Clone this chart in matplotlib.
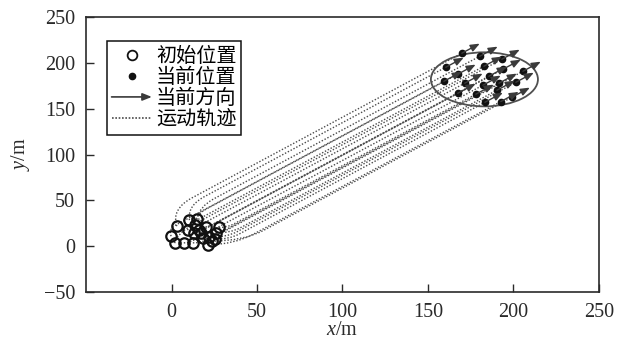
import numpy as np
import matplotlib
matplotlib.use('Agg')
import matplotlib.pyplot as plt
from matplotlib.patches import Ellipse, FancyArrowPatch, PathPatch
from matplotlib.path import Path
from matplotlib.legend_handler import HandlerBase
from matplotlib.lines import Line2D

# ---- data ----
start_x = [3.1, 10.5, 14.8, -0.2, 13.5, 9.5, 1.8, 16.0, 12.9, 19.9,
           17.0, 7.2, 27.7, 12.5, 18.3, 25.8, 21.8, 25.2, 23.4, 21.3]
start_y = [21.8, 28.4, 29.1, 10.9, 22.9, 17.4, 3.3, 17.4, 14.2, 21.0,
           14.0, 3.6, 20.4, 3.6, 8.4, 14.5, 9.5, 7.6, 5.5, 1.1]
end_x = [169.8, 160.4, 180.3, 159.3, 167.4, 182.7, 193.2, 171.5, 185.6, 167.4,
         193.8, 182.1, 178.0, 191.5, 205.5, 190.3, 201.4, 183.3, 199.1, 192.6]
end_y = [210.5, 195.2, 207.2, 179.9, 187.6, 196.3, 203.9, 177.8, 185.4, 166.8,
         193.0, 175.6, 165.8, 177.8, 190.8, 170.1, 178.8, 157.0, 162.5, 157.8]
init_heading_deg = [100, 95, 85, 105, 90, 90, 80, 80, 0, 10,
                    70, 0, 0, 0, 0, 0, 0, 0, 0, 5]
final_heading_deg = 45
arrow_len = 14.8
ellipse_center = (183, 182)
ellipse_w, ellipse_h = 62.6, 59

xlim = (-50, 250)
ylim = (-50, 250)
xticks = [0, 50, 100, 150, 200, 250]
yticks = [-50, 0, 50, 100, 150, 200, 250]
legend_labels = ['初始位置', '当前位置', '当前方向', '运动轨迹']

plt.rcParams['font.family'] = ['Liberation Serif', 'Noto Sans CJK SC']
plt.rcParams['mathtext.fontset'] = 'custom'
plt.rcParams['mathtext.it'] = 'Liberation Serif:italic'
plt.rcParams['mathtext.rm'] = 'Liberation Serif'

dark = '#2a2a2a'
gray = '#4a4a4a'
arrow_style = '-|>,head_length=0.55,head_width=0.22'

fig = plt.figure(figsize=(6.17, 3.45), dpi=100)
ax = fig.add_axes([0.1394, 0.1536, 0.8314, 0.7971])

# trajectories: turn from the initial heading onto the final heading, then straight
fh = np.deg2rad(final_heading_deg)
fdir = np.array([np.cos(fh), np.sin(fh)])
nrm = np.array([-fdir[1], fdir[0]])
for sx, sy, ex, ey, hd in zip(start_x, start_y, end_x, end_y, init_heading_deg):
    s = np.array([sx, sy])
    f = np.array([ex, ey])
    th = np.deg2rad(hd)
    d = np.array([np.cos(th), np.sin(th)])
    u = np.dot(f - s, nrm) / np.dot(d, nrm)
    c = s + u * d
    j = c + fdir * max(0.9 * abs(u), 5)
    path = Path([s, c, j, f], [Path.MOVETO, Path.CURVE3, Path.CURVE3, Path.LINETO])
    ax.add_patch(PathPatch(path, fill=False, edgecolor=gray, lw=1.0,
                           linestyle=(0, (1, 1.3)), zorder=2))

ax.add_patch(Ellipse(ellipse_center, ellipse_w, ellipse_h, fill=False,
                     edgecolor='#505050', lw=1.3, zorder=3))

ax.plot(start_x, start_y, 'o', mfc='none', mec='#111111', mew=1.6, ms=7.5,
        ls='none', zorder=4)
ax.plot(end_x, end_y, 'o', color='#111111', ms=4.5, ls='none', zorder=5)

for ex, ey in zip(end_x, end_y):
    ax.annotate('', xy=(ex + arrow_len * fdir[0], ey + arrow_len * fdir[1]),
                xytext=(ex, ey),
                arrowprops=dict(arrowstyle=arrow_style,
                                color='#3a3a3a', lw=1.0, shrinkA=0, shrinkB=0,
                                mutation_scale=10),
                zorder=6)

ax.set_xlim(*xlim)
ax.set_ylim(*ylim)
ax.set_xticks(xticks)
ax.set_yticks(yticks)
ax.tick_params(direction='in', length=6, width=1, pad=8, labelsize=14.5,
               colors=dark, top=False, right=False)
for sp in ax.spines.values():
    sp.set_linewidth(1.2)
    sp.set_color(dark)
ax.set_xlabel(r'$x$/m', fontsize=14.5, color=dark, labelpad=-1)
ax.set_ylabel(r'$y$/m', fontsize=14.5, color=dark, labelpad=8)


class HandlerArrow(HandlerBase):
    def create_artists(self, legend, orig_handle, xdescent, ydescent,
                       width, height, fontsize, trans):
        y = height / 2 - ydescent
        a = FancyArrowPatch((-xdescent, y), (width - xdescent, y),
                            arrowstyle=arrow_style,
                            mutation_scale=10, color='#3a3a3a', lw=1.2,
                            shrinkA=0, shrinkB=0, transform=trans)
        return [a]


h_init = Line2D([], [], marker='o', mfc='none', mec='#111111', mew=1.3,
                ms=7, ls='none')
h_cur = Line2D([], [], marker='o', color='#111111', ms=4.5, ls='none')
h_arrow = FancyArrowPatch((0, 0), (1, 0))
h_traj = Line2D([], [], color=gray, lw=1.2, ls=(0, (1, 1)))

leg = ax.legend([h_init, h_cur, h_arrow, h_traj], legend_labels,
                handler_map={h_arrow: HandlerArrow()},
                loc='upper left', bbox_to_anchor=(0.040, 0.913),
                prop={'family': 'Noto Sans CJK SC', 'size': 14.5},
                frameon=True, fancybox=False, edgecolor='#111111',
                handlelength=2.0, handletextpad=0.2, labelspacing=0.0,
                borderpad=0.25, borderaxespad=0, framealpha=1)
leg.get_frame().set_linewidth(1.1)

fig.savefig('out.png', dpi=100)
